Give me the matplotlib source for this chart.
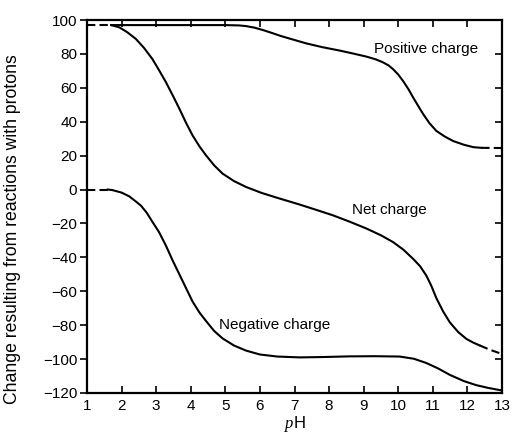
import matplotlib
matplotlib.use("Agg")
import matplotlib.pyplot as plt

plt.rcParams['font.family'] = ['Liberation Sans', 'DejaVu Sans']
plt.rcParams['mathtext.fontset'] = 'custom'
plt.rcParams['mathtext.rm'] = 'Liberation Serif'
plt.rcParams['mathtext.it'] = 'Liberation Serif:italic'

# positive charge (solid part + dashed ends)
pos_ph = [1.7, 2.5, 3.5, 4.5, 5.0, 5.4, 5.6, 5.84, 6.1, 6.37, 6.6, 6.85, 7.34, 7.8,
          8.3, 8.7, 9.08, 9.35, 9.56, 9.72, 9.85, 10.0, 10.14, 10.3, 10.43, 10.58,
          10.72, 10.9, 11.1, 11.35, 11.59, 11.9, 12.17, 12.4]
pos_val = [97, 97, 97, 97, 97, 96.8, 96.4, 95.5, 94, 92.2, 90.6, 89.1, 86.2, 84,
           82, 80.2, 78.4, 76.8, 75, 73.2, 71, 67.8, 64, 59, 54.3, 49.2,
           44.5, 39.2, 34.6, 31.2, 28.6, 26.4, 25, 24.6]
pos_dash_left_ph = [1.0, 1.7]
pos_dash_left_val = [97, 97]
pos_dash_right_ph = [12.4, 13.0]
pos_dash_right_val = [24.6, 24.5]

# net charge
net_ph = [1.7, 1.93, 2.15, 2.41, 2.65, 2.89, 3.08, 3.28, 3.48, 3.67, 3.86, 4.05,
          4.25, 4.44, 4.68, 4.92, 5.25, 5.6, 6.05, 6.52, 7.14, 7.6, 8.11, 8.6,
          9.08, 9.5, 9.85, 10.15, 10.43, 10.63, 10.81, 10.95, 11.1, 11.3, 11.49,
          11.73, 11.97, 12.17, 12.36]
net_val = [97, 95.7, 93, 88.9, 83.5, 77, 70.5, 63.4, 55.5, 47.7, 39.5, 32,
           25.5, 20.2, 14.2, 9.4, 5, 1.5, -2, -5, -8.8, -11.8, -15.2, -19,
           -23, -27, -31, -35.5, -40.9, -45.2, -50.7, -56.5, -64, -72, -78.3,
           -84, -88.1, -90.3, -92]
net_dash_right_ph = [12.36, 12.65, 13.0]
net_dash_right_val = [-92, -94.5, -97]

# negative charge
neg_ph = [1.6, 1.73, 2.0, 2.22, 2.41, 2.56, 2.72, 2.89, 3.08, 3.28, 3.48, 3.67,
          3.86, 4.05, 4.25, 4.44, 4.68, 4.92, 5.25, 5.6, 6.0, 6.5, 7.14, 7.8,
          8.59, 9.3, 10.04, 10.45, 10.81, 11.15, 11.49, 11.9, 12.26, 12.6,
          12.94, 13.0]
neg_val = [0, -0.3, -1.8, -4, -7, -9.5, -13.5, -19, -25, -33, -42, -50,
           -58, -66, -72.5, -77.5, -83.5, -87.8, -92, -95, -97.3, -98.5, -99, -98.8,
           -98.4, -98.3, -98.5, -99.8, -102.3, -105.5, -109.3, -113, -115.4, -117,
           -118.3, -118.5]
neg_dash_left_ph = [1.0, 1.6]
neg_dash_left_val = [0, 0]

curve_labels = ["Positive charge", "Net charge", "Negative charge"]
label_ph = [10.8, 9.75, 6.42]
label_val = [83, -12, -80]

x_ticks = list(range(1, 14))
y_ticks = list(range(-120, 101, 20))

fig = plt.figure(figsize=(5.13, 4.33), dpi=100)
ax = fig.add_axes([0.1696, 0.0924, 0.809, 0.8614])

lw = 1.5
dash = (0, (4, 2))
for xs, ys in [(pos_ph, pos_val), (net_ph, net_val), (neg_ph, neg_val)]:
    ax.plot(xs, ys, color='black', lw=lw, solid_joinstyle='round')
for xs, ys in [(pos_dash_left_ph, pos_dash_left_val),
               (pos_dash_right_ph, pos_dash_right_val),
               (net_dash_right_ph, net_dash_right_val),
               (neg_dash_left_ph, neg_dash_left_val)]:
    ax.plot(xs, ys, color='black', lw=lw, ls=dash)

for txt, xp, yp in zip(curve_labels, label_ph, label_val):
    ax.text(xp, yp, txt, fontsize=11, ha='center', va='center')

ax.set_xlim(1, 13)
ax.set_ylim(-120, 100)
ax.set_xticks(x_ticks)
ax.set_yticks(y_ticks)
ax.tick_params(axis='both', labelsize=11, width=1.2, length=5, color='black')
ax.tick_params(axis='x', direction='in', top=True, pad=4)
ax.tick_params(axis='y', direction='out', pad=2)
ax.tick_params(axis='y', which='both', right=True)
for t in ax.yaxis.get_ticklines()[1::2]:
    t.set_marker(0)  # right ticks point inward

for s in ax.spines.values():
    s.set_linewidth(1.6)

ax.set_xlabel(r'$p$H', fontsize=12, labelpad=1)
ax.set_ylabel('Change resulting from reactions with protons', fontsize=12.7)
ax.yaxis.set_label_coords(-0.16, 0.44)

fig.savefig('out.png', dpi=100)
